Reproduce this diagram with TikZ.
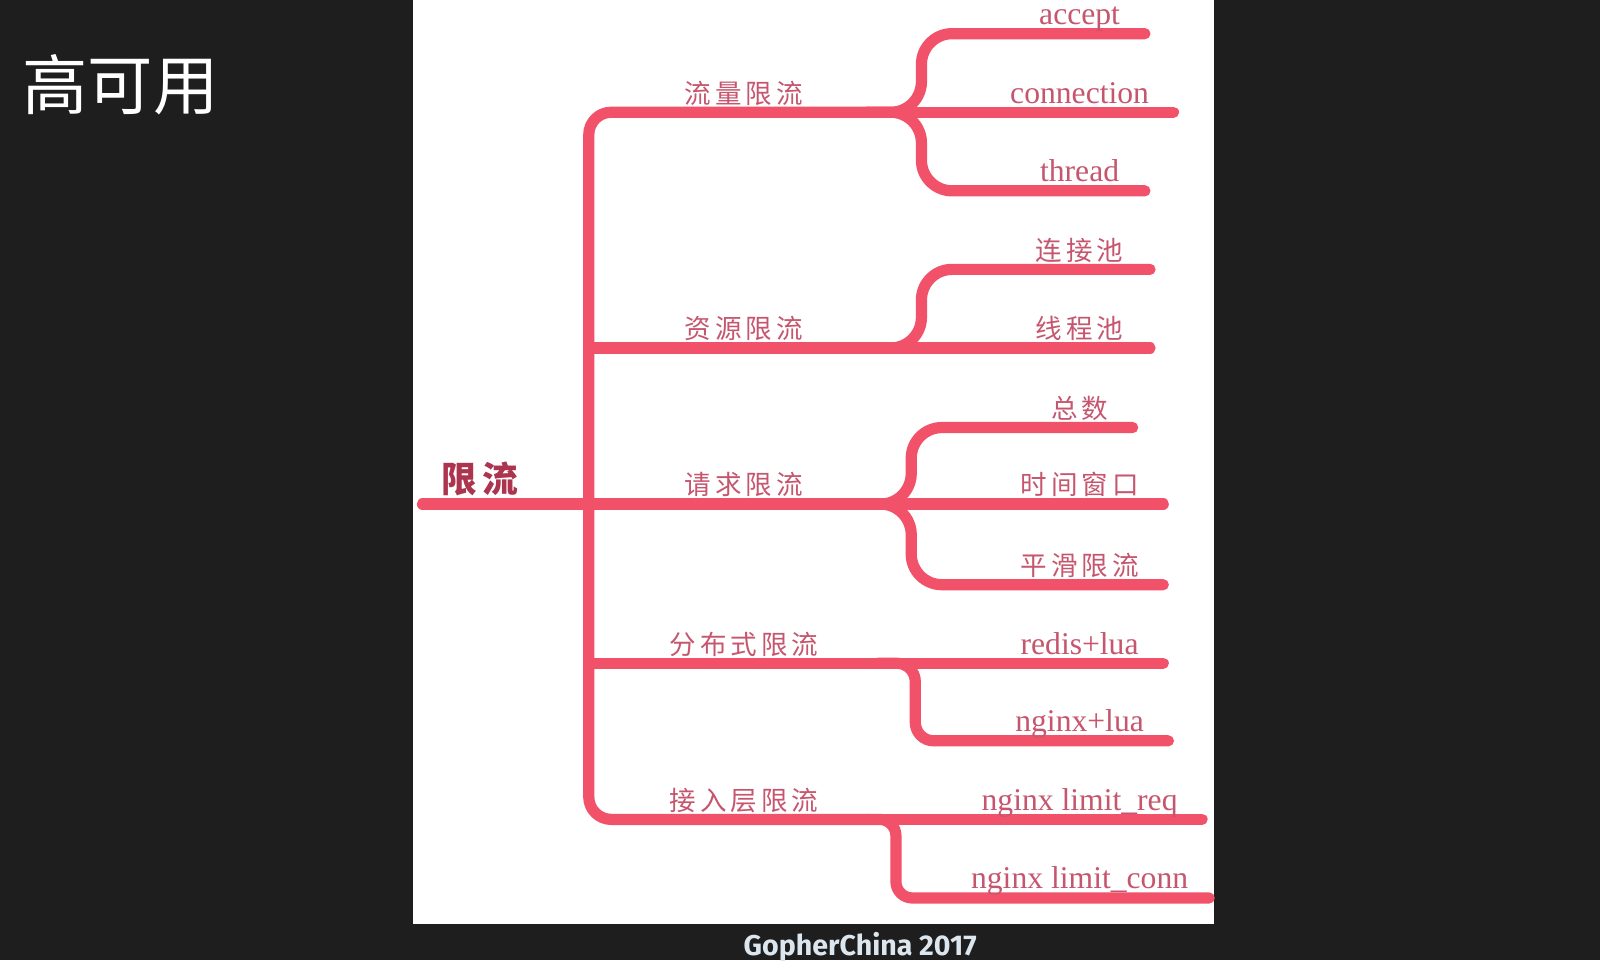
\documentclass[tikz,border=0pt]{standalone}
\usepackage{fontspec}
\setmainfont{Liberation Serif}
\newfontfamily\cjk{Noto Sans CJK SC}
\newfontfamily\cjkw[LetterSpace=15]{Noto Sans CJK SC}
\newfontfamily\gopher{Fira Sans}
\usetikzlibrary{calc,positioning}
\definecolor{slide}{RGB}{30,30,30}
\definecolor{branch}{RGB}{241,82,106}
\definecolor{lbltext}{RGB}{198,86,110}
\definecolor{roottext}{RGB}{172,52,78}
\definecolor{foot}{RGB}{220,230,238}
\tikzset{
	mm/.style={draw=branch, line width=11pt, line cap=round, line join=round},
	blbl/.style={text=lbltext, font=\cjkw\fontsize{26}{30}\selectfont, inner sep=0pt, anchor=base},
	clbl/.style={text=lbltext, font=\cjkw\fontsize{26}{30}\selectfont, inner sep=0pt, anchor=base},
	llbl/.style={text=lbltext, font=\fontsize{31}{34}\selectfont, inner sep=0pt, anchor=base},
}
\begin{document}
\begin{tikzpicture}[x=1pt,y=-1pt]
	\fill[slide] (0,0) rectangle (1568,941);
	\useasboundingbox (0,0) rectangle (1568,941);
	\fill[white] (405,0) rectangle (1190,906);

	\node[text=white, font=\cjk\fontsize{64}{70}\selectfont, inner sep=0pt] (title) at (118,83) {高可用};
	\node[text=foot, font=\gopher\bfseries\fontsize{28}{30}\selectfont, inner sep=0pt] (conf) at (843,928) {GopherChina 2017};

	% root and trunk
	\coordinate (rootL) at (414,494);
	\coordinate (hub) at (577,494);
	\coordinate (f1) at (850,110);
	\coordinate (f2) at (850,341);
	\coordinate (f3) at (840,494);
	\coordinate (f4) at (860,650);
	\coordinate (f5) at (850,803);
	\draw[mm] (rootL) -- (hub);
	\draw[mm, rounded corners=22pt] (f1) -| (hub) |- (f5);
	\draw[mm] (hub |- f2) -- (f2);
	\draw[mm] (hub) -- (f3);
	\draw[mm] (hub |- f4) -- (f4);
	\node[text=roottext, font=\cjkw\bfseries\fontsize{35}{36}\selectfont, inner sep=0pt, anchor=base] (root) at ([yshift=11pt]470,494) {限流};

	% branch labels
	\foreach \y/\n/\txt in {110/traffic/流量限流, 341/resource/资源限流, 494/request/请求限流, 650/distrib/分布式限流, 803/access/接入层限流}
		\node[blbl] (\n) at ([yshift=9pt]729,\y) {\txt};

	% bent leaves
	\foreach \f/\n/\xb/\y/\xe/\r/\st/\txt in {
		f1/accept/903/33/1122/30/llbl/accept,
		f1/thread/903/187/1122/30/llbl/thread,
		f2/connpool/903/264/1127/30/clbl/连接池,
		f3/total/893/419/1110/30/clbl/总数,
		f3/smooth/893/573/1140/30/clbl/平滑限流,
		f4/nginxlua/897/726/1145/18/llbl/nginx+lua,
		f5/limitconn/878/880/1185/16/llbl/nginx limit\_conn}{
		\coordinate (\n-b) at (\xb,\y);
		\coordinate (\n-e) at (\xe,\y);
		\draw[mm, rounded corners=\r pt] (\f) -| (\n-b) -- (\n-e);
		\node[\st] (\n) at ([yshift=9pt]1058,\y) {\txt};
	}

	% straight leaves
	\foreach \f/\n/\y/\xe/\st/\txt in {
		f1/connection/110/1150/llbl/connection,
		f2/threadpool/341/1127/clbl/线程池,
		f3/window/494/1140/clbl/时间窗口,
		f4/redislua/650/1140/llbl/redis+lua,
		f5/limitreq/803/1178/llbl/nginx limit\_req}{
		\coordinate (\n-e) at (\xe,\y);
		\draw[mm] (\f) -- (\n-e);
		\node[\st] (\n) at ([yshift=9pt]1058,\y) {\txt};
	}
\end{tikzpicture}
\end{document}
